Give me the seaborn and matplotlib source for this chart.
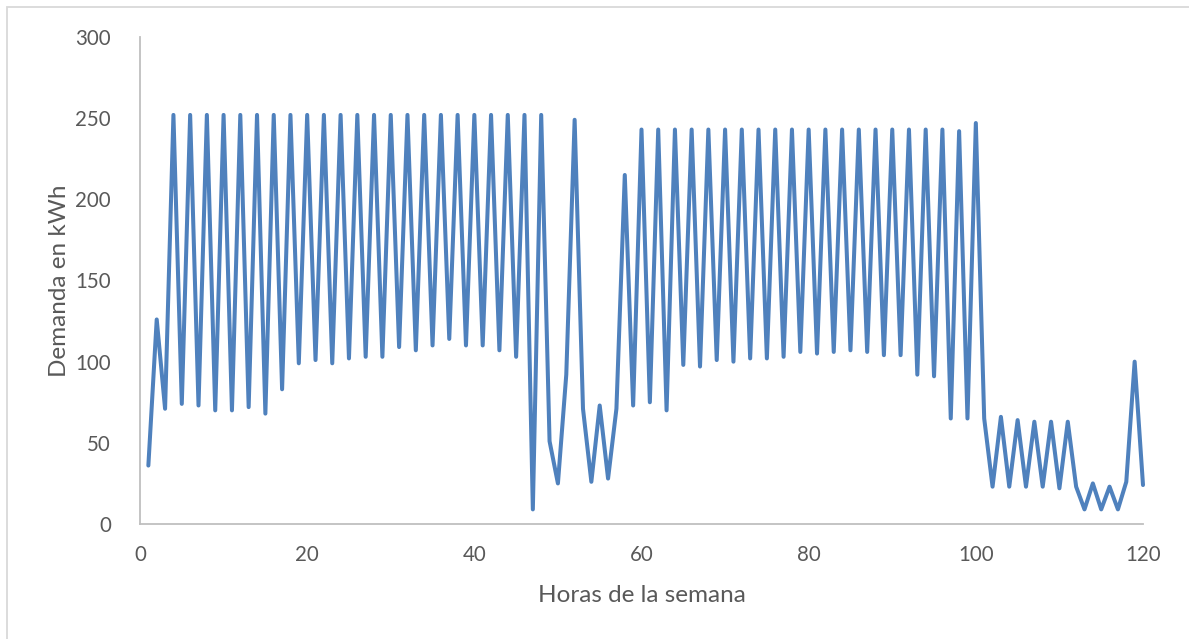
import matplotlib
matplotlib.use("Agg")
import matplotlib.pyplot as plt
import seaborn as sns
import pandas as pd
from matplotlib.patches import Rectangle

# Hourly energy demand over the working week
horas = list(range(1, 121))
demanda = [
    36, 126, 71, 252, 74, 252, 73, 252, 70, 252,
    70, 252, 72, 252, 68, 252, 83, 252, 99, 252,
    101, 252, 99, 252, 102, 252, 103, 252, 103, 252,
    109, 252, 107, 252, 110, 252, 114, 252, 110, 252,
    110, 252, 107, 252, 103, 252, 9, 252, 51, 25,
    92, 249, 71, 26, 73, 28, 71, 215, 73, 243,
    75, 243, 70, 243, 98, 243, 97, 243, 101, 243,
    100, 243, 102, 243, 102, 243, 103, 243, 106, 243,
    105, 243, 106, 243, 107, 243, 106, 243, 104, 243,
    104, 243, 92, 243, 91, 243, 65, 242, 65, 247,
    65, 23, 66, 23, 64, 23, 63, 23, 63, 22,
    63, 23, 9, 25, 9, 23, 9, 26, 100, 24,
]
y_ticks = [0, 50, 100, 150, 200, 250, 300]
x_ticks = [0, 20, 40, 60, 80, 100, 120]

df = pd.DataFrame({"hora": horas, "demanda": demanda})

sns.set_theme(style="white")
plt.rcParams["font.family"] = ["Lato", "DejaVu Sans"]

W, H = 1189, 639
fig = plt.figure(figsize=(W / 100, H / 100), dpi=100)
ax = fig.add_axes([140 / W, 1 - 524 / H, (1143 - 140) / W, (524 - 37) / H])

sns.lineplot(data=df, x="hora", y="demanda", ax=ax, color="#4F81BD",
             linewidth=2.9, solid_joinstyle="round", solid_capstyle="round")
for line in ax.lines:
    line.set_clip_on(False)

ax.set_xlim(0, 120)
ax.set_ylim(0, 300)
ax.set_xticks(x_ticks)
ax.set_yticks(y_ticks)
ax.tick_params(axis="both", length=0, labelsize=14.8, labelcolor="#595959")
ax.tick_params(axis="x", pad=15)
ax.tick_params(axis="y", pad=21)

for side in ("top", "right"):
    ax.spines[side].set_visible(False)
for side in ("left", "bottom"):
    ax.spines[side].set_color("#BFBFBF")
    ax.spines[side].set_linewidth(1.3)

ax.set_xlabel("Horas de la semana", fontsize=17.5, color="#595959", va="center")
ax.set_ylabel("Demanda en kWh", fontsize=17.5, color="#595959", va="center")
ax.xaxis.set_label_coords(0.5, (524 - 596) / 487)
ax.yaxis.set_label_coords((60 - 140) / 1003, 0.5)

# chart area frame
fig.patches.append(Rectangle((7 / W, -0.05), 1.2, 1 - 7 / H + 0.05,
                             transform=fig.transFigure, fill=False,
                             edgecolor="#D9D9D9", linewidth=1.3))

fig.savefig("out.png", dpi=100, facecolor="white")
